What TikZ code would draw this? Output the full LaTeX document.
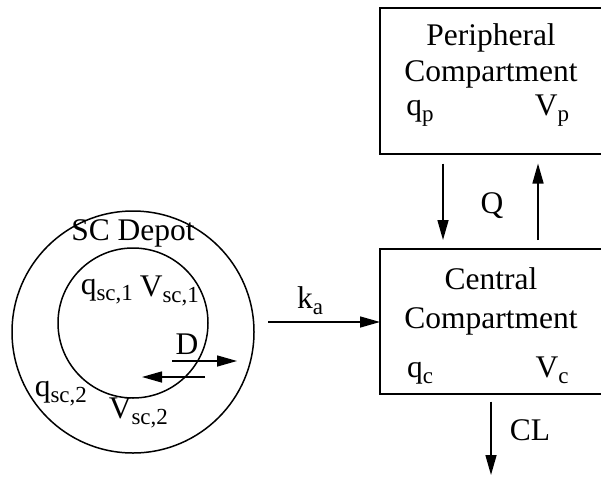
\documentclass[tikz,border=0pt]{standalone}
\usepackage{fontspec}
\setmainfont{Liberation Serif}
\usetikzlibrary{arrows.meta}
\newcommand{\sbs}[1]{\raisebox{-0.45ex}{\fontsize{23}{23}\selectfont #1}}
\begin{document}
\begin{tikzpicture}[x=1pt,y=-1pt,line width=1.5pt,
  lbl/.style={font=\fontsize{31.5}{34}\selectfont, inner sep=0pt, anchor=base},
  arr/.style={-{Triangle[length=20pt,width=11pt]}},
  box/.style={anchor=north west, inner sep=0pt, minimum width=221pt},
  boxline/.style={line width=2pt}]
\useasboundingbox (0,0) rectangle (601,476);
% compartments (right sides lie beyond the picture edge)
\node[box, minimum height=144pt] (peri) at (380,8) {};
\node[box, minimum height=143pt] (cent) at (380,249) {};
\draw[boxline] (peri.north east) -- (peri.north west) -- (peri.south west) -- (peri.south east);
\draw[boxline] (cent.north east) -- (cent.north west) -- (cent.south west) -- (cent.south east);
\node[lbl] (pt1) at (491,46) {Peripheral};
\node[lbl] (pt2) at (491,82) {Compartment};
\node[lbl] (qp) at (420,115) {q\sbs{p}};
\node[lbl] (vp) at (552,115) {V\sbs{p}};
\node[lbl] (ct1) at (491,289) {Central};
\node[lbl] (ct2) at (491,328) {Compartment};
\node[lbl] (qc) at (420,377) {q\sbs{c}};
\node[lbl] (vc) at (552,377) {V\sbs{c}};
% Q arrows
\coordinate (qx1) at (443,0);
\coordinate (qx2) at (538,0);
\draw[arr, shorten <=10pt, shorten >=9pt] (peri.south -| qx1) -- (cent.north -| qx1);
\draw[arr, shorten <=9pt, shorten >=10pt] (cent.north -| qx2) -- (peri.south -| qx2);
\node[lbl] (q) at (492,213) {Q};
% CL
\coordinate (clx) at (491,0);
\coordinate (clend) at (491,475);
\draw[arr, shorten <=8pt] (cent.south -| clx) -- (clend);
\node[lbl] (cl) at (530,440) {CL};
% SC depot
\node[draw, circle, minimum size=242pt, inner sep=0pt] (outer) at (133,332) {};
\node[draw, circle, minimum size=150pt, inner sep=0pt] (inner) at (133,323) {};
\node[lbl] (scd) at (133,240) {SC Depot};
\node[lbl, anchor=base west] (q1) at (80,294) {q\sbs{sc,1}};
\node[lbl, anchor=base west] (v1) at (139,296) {V\sbs{sc,1}};
\node[lbl] (d) at (187,354) {D};
\node[lbl, anchor=base west] (q2) at (34,396) {q\sbs{sc,2}};
\node[lbl, anchor=base west] (v2) at (108,418) {V\sbs{sc,2}};
\coordinate (dr0) at (172,361);
\coordinate (dr1) at (237,361);
\coordinate (dl0) at (205,377);
\coordinate (dl1) at (142,377);
\draw[arr] (dr0) -- (dr1);
\draw[arr] (dl0) -- (dl1);
% ka
\coordinate (ka0) at (268,322);
\draw[arr] (ka0) -- (ka0 -| cent.west);
\node[lbl] (ka) at (310,308) {k\sbs{a}};
\end{tikzpicture}
\end{document}
